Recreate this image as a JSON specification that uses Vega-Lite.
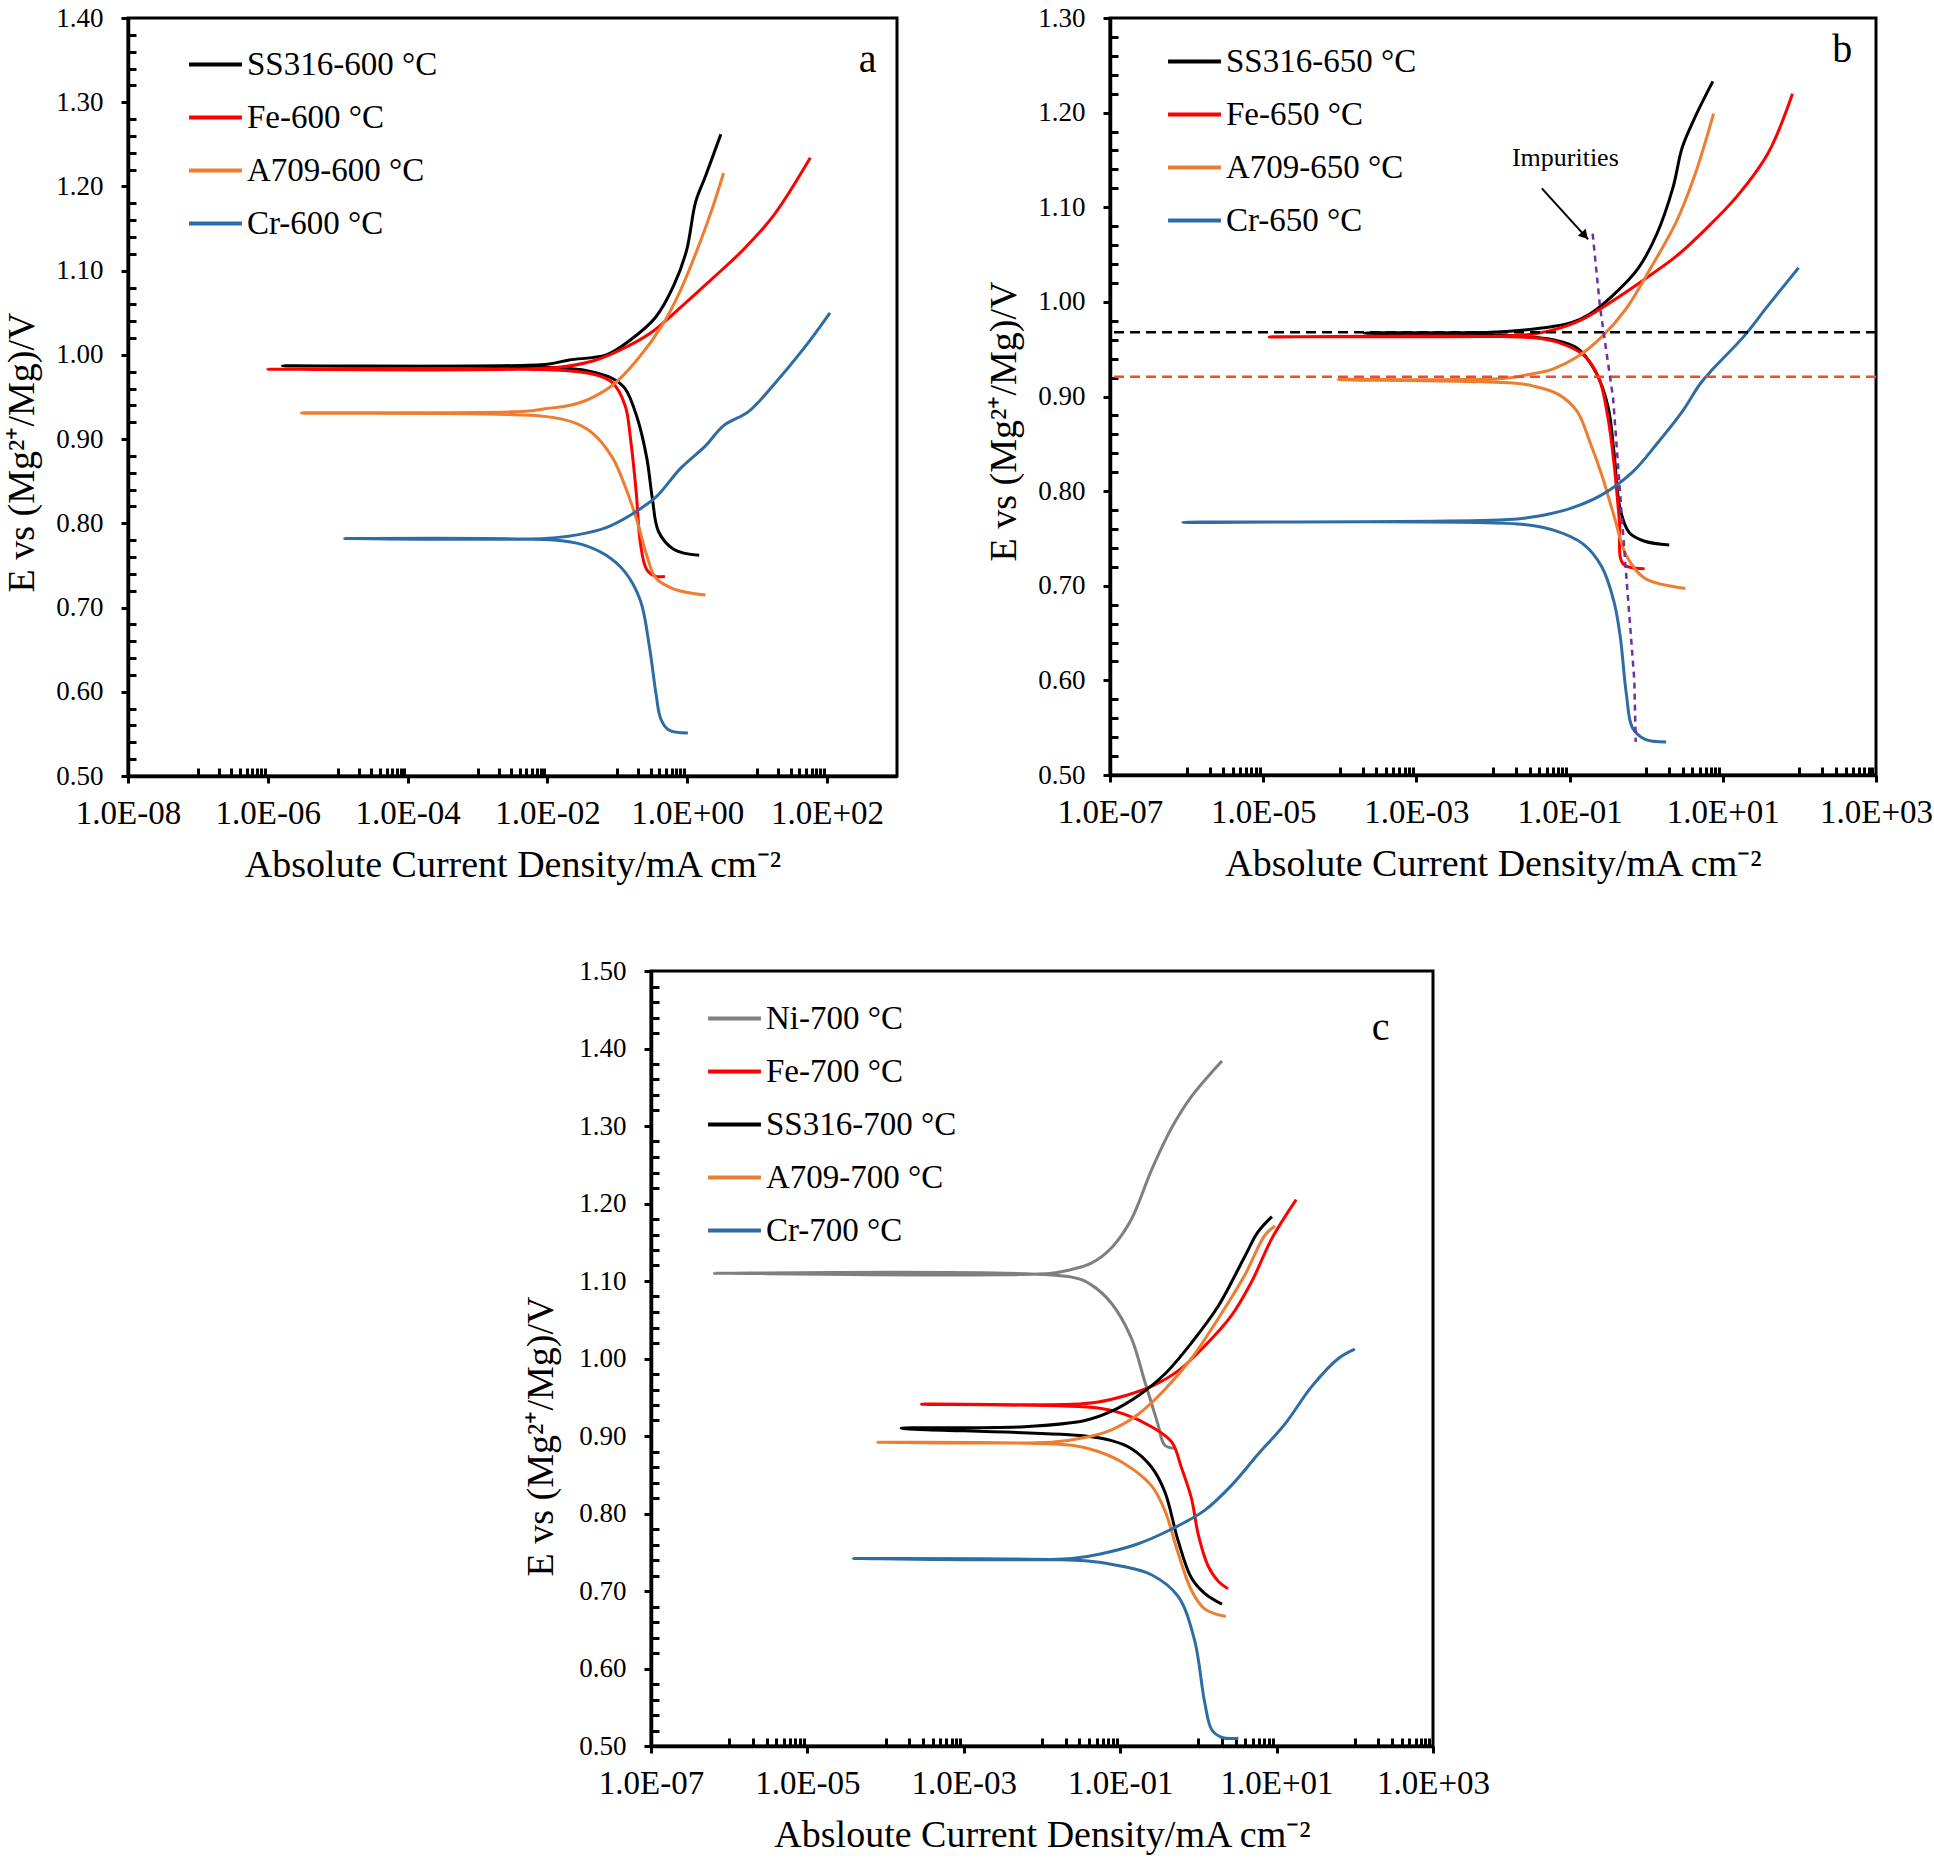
{
  "$schema": "https://vega.github.io/schema/vega-lite/v6.json",
  "background": "white",
  "padding": {"left": 2, "top": 2, "right": 0, "bottom": 0},
  "datasets": {
    "pa": [
      {"s":"SS316-600 °C","o":1,"i":1.48,"E":0.762},{"s":"SS316-600 °C","o":2,"i":0.646,"E":0.769},{"s":"SS316-600 °C","o":3,"i":0.389,"E":0.79},{"s":"SS316-600 °C","o":4,"i":0.316,"E":0.83},{"s":"SS316-600 °C","o":5,"i":0.263,"E":0.878},{"s":"SS316-600 °C","o":6,"i":0.191,"E":0.926},{"s":"SS316-600 °C","o":7,"i":0.129,"E":0.96},{"s":"SS316-600 °C","o":8,"i":0.0851,"E":0.972},{"s":"SS316-600 °C","o":9,"i":0.038,"E":0.981},{"s":"SS316-600 °C","o":10,"i":0.0126,"E":0.985},{"s":"SS316-600 °C","o":11,"i":1.62e-6,"E":0.987},{"s":"SS316-600 °C","o":12,"i":0.01,"E":0.989},{"s":"SS316-600 °C","o":13,"i":0.0204,"E":0.994},{"s":"SS316-600 °C","o":14,"i":0.0692,"E":1.0},{"s":"SS316-600 °C","o":15,"i":0.155,"E":1.018},{"s":"SS316-600 °C","o":16,"i":0.355,"E":1.045},{"s":"SS316-600 °C","o":17,"i":0.646,"E":1.083},{"s":"SS316-600 °C","o":18,"i":0.977,"E":1.124},{"s":"SS316-600 °C","o":19,"i":1.32,"E":1.182},{"s":"SS316-600 °C","o":20,"i":1.82,"E":1.212},{"s":"SS316-600 °C","o":21,"i":3.02,"E":1.262},
      {"s":"Fe-600 °C","o":1,"i":0.479,"E":0.737},{"s":"Fe-600 °C","o":2,"i":0.355,"E":0.737},{"s":"Fe-600 °C","o":3,"i":0.263,"E":0.745},{"s":"Fe-600 °C","o":4,"i":0.214,"E":0.776},{"s":"Fe-600 °C","o":5,"i":0.186,"E":0.837},{"s":"Fe-600 °C","o":6,"i":0.155,"E":0.899},{"s":"Fe-600 °C","o":7,"i":0.129,"E":0.94},{"s":"Fe-600 °C","o":8,"i":0.0851,"E":0.967},{"s":"Fe-600 °C","o":9,"i":0.0457,"E":0.977},{"s":"Fe-600 °C","o":10,"i":0.0135,"E":0.982},{"s":"Fe-600 °C","o":11,"i":1e-6,"E":0.983},{"s":"Fe-600 °C","o":12,"i":0.0135,"E":0.985},{"s":"Fe-600 °C","o":13,"i":0.0457,"E":0.993},{"s":"Fe-600 °C","o":14,"i":0.105,"E":1.005},{"s":"Fe-600 °C","o":15,"i":0.288,"E":1.025},{"s":"Fe-600 °C","o":16,"i":0.794,"E":1.056},{"s":"Fe-600 °C","o":17,"i":2.24,"E":1.09},{"s":"Fe-600 °C","o":18,"i":6.17,"E":1.124},{"s":"Fe-600 °C","o":19,"i":17.0,"E":1.165},{"s":"Fe-600 °C","o":20,"i":57.5,"E":1.234},
      {"s":"A709-600 °C","o":1,"i":1.82,"E":0.715},{"s":"A709-600 °C","o":2,"i":0.646,"E":0.722},{"s":"A709-600 °C","o":3,"i":0.355,"E":0.735},{"s":"A709-600 °C","o":4,"i":0.263,"E":0.762},{"s":"A709-600 °C","o":5,"i":0.191,"E":0.803},{"s":"A709-600 °C","o":6,"i":0.129,"E":0.844},{"s":"A709-600 °C","o":7,"i":0.0851,"E":0.878},{"s":"A709-600 °C","o":8,"i":0.0457,"E":0.906},{"s":"A709-600 °C","o":9,"i":0.0251,"E":0.919},{"s":"A709-600 °C","o":10,"i":0.00912,"E":0.927},{"s":"A709-600 °C","o":11,"i":3.02e-6,"E":0.931},{"s":"A709-600 °C","o":12,"i":0.0049,"E":0.933},{"s":"A709-600 °C","o":13,"i":0.00912,"E":0.936},{"s":"A709-600 °C","o":14,"i":0.0204,"E":0.94},{"s":"A709-600 °C","o":15,"i":0.038,"E":0.947},{"s":"A709-600 °C","o":16,"i":0.0851,"E":0.964},{"s":"A709-600 °C","o":17,"i":0.191,"E":0.994},{"s":"A709-600 °C","o":18,"i":0.437,"E":1.035},{"s":"A709-600 °C","o":19,"i":0.794,"E":1.076},{"s":"A709-600 °C","o":20,"i":1.48,"E":1.131},{"s":"A709-600 °C","o":21,"i":2.24,"E":1.172},{"s":"A709-600 °C","o":22,"i":3.31,"E":1.216},
      {"s":"Cr-600 °C","o":1,"i":1.02,"E":0.551},{"s":"Cr-600 °C","o":2,"i":0.537,"E":0.555},{"s":"Cr-600 °C","o":3,"i":0.417,"E":0.568},{"s":"Cr-600 °C","o":4,"i":0.355,"E":0.599},{"s":"Cr-600 °C","o":5,"i":0.288,"E":0.653},{"s":"Cr-600 °C","o":6,"i":0.214,"E":0.708},{"s":"Cr-600 °C","o":7,"i":0.129,"E":0.742},{"s":"Cr-600 °C","o":8,"i":0.0692,"E":0.762},{"s":"Cr-600 °C","o":9,"i":0.0309,"E":0.775},{"s":"Cr-600 °C","o":10,"i":0.0135,"E":0.78},{"s":"Cr-600 °C","o":11,"i":1.26e-5,"E":0.782},{"s":"Cr-600 °C","o":12,"i":0.00912,"E":0.782},{"s":"Cr-600 °C","o":13,"i":0.0251,"E":0.786},{"s":"Cr-600 °C","o":14,"i":0.0692,"E":0.795},{"s":"Cr-600 °C","o":15,"i":0.155,"E":0.81},{"s":"Cr-600 °C","o":16,"i":0.355,"E":0.831},{"s":"Cr-600 °C","o":17,"i":0.794,"E":0.865},{"s":"Cr-600 °C","o":18,"i":1.82,"E":0.892},{"s":"Cr-600 °C","o":19,"i":3.31,"E":0.916},{"s":"Cr-600 °C","o":20,"i":7.59,"E":0.933},{"s":"Cr-600 °C","o":21,"i":17.0,"E":0.964},{"s":"Cr-600 °C","o":22,"i":46.8,"E":1.008},{"s":"Cr-600 °C","o":23,"i":110,"E":1.05}
    ],
    "pb": [
      {"s":"SS316-650 °C","o":1,"i":2.0,"E":0.743},{"s":"SS316-650 °C","o":2,"i":0.955,"E":0.747},{"s":"SS316-650 °C","o":3,"i":0.603,"E":0.756},{"s":"SS316-650 °C","o":4,"i":0.457,"E":0.781},{"s":"SS316-650 °C","o":5,"i":0.38,"E":0.841},{"s":"SS316-650 °C","o":6,"i":0.316,"E":0.89},{"s":"SS316-650 °C","o":7,"i":0.219,"E":0.926},{"s":"SS316-650 °C","o":8,"i":0.126,"E":0.951},{"s":"SS316-650 °C","o":9,"i":0.0603,"E":0.96},{"s":"SS316-650 °C","o":10,"i":0.0234,"E":0.964},{"s":"SS316-650 °C","o":11,"i":2.09e-4,"E":0.967},{"s":"SS316-650 °C","o":12,"i":0.00933,"E":0.968},{"s":"SS316-650 °C","o":13,"i":0.0234,"E":0.97},{"s":"SS316-650 °C","o":14,"i":0.0603,"E":0.974},{"s":"SS316-650 °C","o":15,"i":0.105,"E":0.978},{"s":"SS316-650 °C","o":16,"i":0.182,"E":0.987},{"s":"SS316-650 °C","o":17,"i":0.38,"E":1.008},{"s":"SS316-650 °C","o":18,"i":0.794,"E":1.036},{"s":"SS316-650 °C","o":19,"i":1.38,"E":1.072},{"s":"SS316-650 °C","o":20,"i":2.24,"E":1.121},{"s":"SS316-650 °C","o":21,"i":2.95,"E":1.163},{"s":"SS316-650 °C","o":22,"i":4.27,"E":1.194},{"s":"SS316-650 °C","o":23,"i":7.41,"E":1.233},
      {"s":"Fe-650 °C","o":1,"i":0.955,"E":0.718},{"s":"Fe-650 °C","o":2,"i":0.501,"E":0.723},{"s":"Fe-650 °C","o":3,"i":0.447,"E":0.768},{"s":"Fe-650 °C","o":4,"i":0.38,"E":0.829},{"s":"Fe-650 °C","o":5,"i":0.316,"E":0.878},{"s":"Fe-650 °C","o":6,"i":0.24,"E":0.92},{"s":"Fe-650 °C","o":7,"i":0.151,"E":0.944},{"s":"Fe-650 °C","o":8,"i":0.0724,"E":0.957},{"s":"Fe-650 °C","o":9,"i":0.0339,"E":0.962},{"s":"Fe-650 °C","o":10,"i":1.2e-5,"E":0.963},{"s":"Fe-650 °C","o":11,"i":0.0135,"E":0.964},{"s":"Fe-650 °C","o":12,"i":0.0339,"E":0.966},{"s":"Fe-650 °C","o":13,"i":0.0724,"E":0.972},{"s":"Fe-650 °C","o":14,"i":0.151,"E":0.982},{"s":"Fe-650 °C","o":15,"i":0.38,"E":1.002},{"s":"Fe-650 °C","o":16,"i":0.955,"E":1.024},{"s":"Fe-650 °C","o":17,"i":2.45,"E":1.048},{"s":"Fe-650 °C","o":18,"i":6.17,"E":1.078},{"s":"Fe-650 °C","o":19,"i":15.5,"E":1.112},{"s":"Fe-650 °C","o":20,"i":38.9,"E":1.157},{"s":"Fe-650 °C","o":21,"i":81.3,"E":1.22},
      {"s":"A709-650 °C","o":1,"i":3.24,"E":0.697},{"s":"A709-650 °C","o":2,"i":0.955,"E":0.708},{"s":"A709-650 °C","o":3,"i":0.55,"E":0.732},{"s":"A709-650 °C","o":4,"i":0.38,"E":0.774},{"s":"A709-650 °C","o":5,"i":0.263,"E":0.817},{"s":"A709-650 °C","o":6,"i":0.182,"E":0.853},{"s":"A709-650 °C","o":7,"i":0.126,"E":0.884},{"s":"A709-650 °C","o":8,"i":0.0724,"E":0.902},{"s":"A709-650 °C","o":9,"i":0.0339,"E":0.911},{"s":"A709-650 °C","o":10,"i":0.0195,"E":0.914},{"s":"A709-650 °C","o":11,"i":9.55e-5,"E":0.918},{"s":"A709-650 °C","o":12,"i":0.0135,"E":0.919},{"s":"A709-650 °C","o":13,"i":0.0282,"E":0.923},{"s":"A709-650 °C","o":14,"i":0.0603,"E":0.929},{"s":"A709-650 °C","o":15,"i":0.126,"E":0.942},{"s":"A709-650 °C","o":16,"i":0.263,"E":0.963},{"s":"A709-650 °C","o":17,"i":0.55,"E":0.993},{"s":"A709-650 °C","o":18,"i":1.15,"E":1.036},{"s":"A709-650 °C","o":19,"i":2.45,"E":1.084},{"s":"A709-650 °C","o":20,"i":4.27,"E":1.133},{"s":"A709-650 °C","o":21,"i":7.59,"E":1.199},
      {"s":"Cr-650 °C","o":1,"i":1.82,"E":0.535},{"s":"Cr-650 °C","o":2,"i":0.955,"E":0.538},{"s":"Cr-650 °C","o":3,"i":0.661,"E":0.55},{"s":"Cr-650 °C","o":4,"i":0.55,"E":0.586},{"s":"Cr-650 °C","o":5,"i":0.457,"E":0.647},{"s":"Cr-650 °C","o":6,"i":0.38,"E":0.683},{"s":"Cr-650 °C","o":7,"i":0.263,"E":0.72},{"s":"Cr-650 °C","o":8,"i":0.151,"E":0.744},{"s":"Cr-650 °C","o":9,"i":0.0603,"E":0.759},{"s":"Cr-650 °C","o":10,"i":0.0234,"E":0.765},{"s":"Cr-650 °C","o":11,"i":8.91e-7,"E":0.767},{"s":"Cr-650 °C","o":12,"i":0.0162,"E":0.77},{"s":"Cr-650 °C","o":13,"i":0.0417,"E":0.774},{"s":"Cr-650 °C","o":14,"i":0.105,"E":0.782},{"s":"Cr-650 °C","o":15,"i":0.263,"E":0.796},{"s":"Cr-650 °C","o":16,"i":0.661,"E":0.82},{"s":"Cr-650 °C","o":17,"i":1.38,"E":0.85},{"s":"Cr-650 °C","o":18,"i":2.95,"E":0.884},{"s":"Cr-650 °C","o":19,"i":5.13,"E":0.914},{"s":"Cr-650 °C","o":20,"i":7.41,"E":0.929},{"s":"Cr-650 °C","o":21,"i":18.6,"E":0.963},{"s":"Cr-650 °C","o":22,"i":38.9,"E":0.996},{"s":"Cr-650 °C","o":23,"i":97.7,"E":1.036}
    ],
    "pc": [
      {"s":"Ni-700 °C","o":1,"i":0.501,"E":0.884},{"s":"Ni-700 °C","o":2,"i":0.372,"E":0.888},{"s":"Ni-700 °C","o":3,"i":0.302,"E":0.916},{"s":"Ni-700 °C","o":4,"i":0.204,"E":0.972},{"s":"Ni-700 °C","o":5,"i":0.138,"E":1.027},{"s":"Ni-700 °C","o":6,"i":0.0776,"E":1.071},{"s":"Ni-700 °C","o":7,"i":0.0427,"E":1.095},{"s":"Ni-700 °C","o":8,"i":0.024,"E":1.105},{"s":"Ni-700 °C","o":9,"i":6.46e-7,"E":1.11},{"s":"Ni-700 °C","o":10,"i":0.0132,"E":1.11},{"s":"Ni-700 °C","o":11,"i":0.024,"E":1.115},{"s":"Ni-700 °C","o":12,"i":0.0427,"E":1.123},{"s":"Ni-700 °C","o":13,"i":0.0776,"E":1.143},{"s":"Ni-700 °C","o":14,"i":0.138,"E":1.179},{"s":"Ni-700 °C","o":15,"i":0.251,"E":1.243},{"s":"Ni-700 °C","o":16,"i":0.457,"E":1.298},{"s":"Ni-700 °C","o":17,"i":0.813,"E":1.338},{"s":"Ni-700 °C","o":18,"i":2.0,"E":1.384},
      {"s":"Fe-700 °C","o":1,"i":2.4,"E":0.703},{"s":"Fe-700 °C","o":2,"i":1.78,"E":0.713},{"s":"Fe-700 °C","o":3,"i":1.32,"E":0.733},{"s":"Fe-700 °C","o":4,"i":1.0,"E":0.772},{"s":"Fe-700 °C","o":5,"i":0.813,"E":0.82},{"s":"Fe-700 °C","o":6,"i":0.603,"E":0.86},{"s":"Fe-700 °C","o":7,"i":0.457,"E":0.892},{"s":"Fe-700 °C","o":8,"i":0.251,"E":0.912},{"s":"Fe-700 °C","o":9,"i":0.115,"E":0.928},{"s":"Fe-700 °C","o":10,"i":0.0525,"E":0.936},{"s":"Fe-700 °C","o":11,"i":2.88e-4,"E":0.941},{"s":"Fe-700 °C","o":12,"i":0.024,"E":0.941},{"s":"Fe-700 °C","o":13,"i":0.0525,"E":0.944},{"s":"Fe-700 °C","o":14,"i":0.115,"E":0.952},{"s":"Fe-700 °C","o":15,"i":0.251,"E":0.964},{"s":"Fe-700 °C","o":16,"i":0.55,"E":0.984},{"s":"Fe-700 °C","o":17,"i":1.2,"E":1.016},{"s":"Fe-700 °C","o":18,"i":2.63,"E":1.055},{"s":"Fe-700 °C","o":19,"i":4.79,"E":1.099},{"s":"Fe-700 °C","o":20,"i":8.71,"E":1.155},{"s":"Fe-700 °C","o":21,"i":17.8,"E":1.205},
      {"s":"SS316-700 °C","o":1,"i":2.0,"E":0.683},{"s":"SS316-700 °C","o":2,"i":1.2,"E":0.697},{"s":"SS316-700 °C","o":3,"i":0.813,"E":0.717},{"s":"SS316-700 °C","o":4,"i":0.55,"E":0.765},{"s":"SS316-700 °C","o":5,"i":0.372,"E":0.828},{"s":"SS316-700 °C","o":6,"i":0.251,"E":0.86},{"s":"SS316-700 °C","o":7,"i":0.138,"E":0.884},{"s":"SS316-700 °C","o":8,"i":0.0776,"E":0.894},{"s":"SS316-700 °C","o":9,"i":0.0355,"E":0.9},{"s":"SS316-700 °C","o":10,"i":1.58e-4,"E":0.91},{"s":"SS316-700 °C","o":11,"i":0.00603,"E":0.912},{"s":"SS316-700 °C","o":12,"i":0.0355,"E":0.92},{"s":"SS316-700 °C","o":13,"i":0.0776,"E":0.932},{"s":"SS316-700 °C","o":14,"i":0.17,"E":0.952},{"s":"SS316-700 °C","o":15,"i":0.372,"E":0.98},{"s":"SS316-700 °C","o":16,"i":0.813,"E":1.02},{"s":"SS316-700 °C","o":17,"i":1.78,"E":1.067},{"s":"SS316-700 °C","o":18,"i":3.89,"E":1.131},{"s":"SS316-700 °C","o":19,"i":5.75,"E":1.163},{"s":"SS316-700 °C","o":20,"i":8.71,"E":1.183},
      {"s":"A709-700 °C","o":1,"i":2.24,"E":0.667},{"s":"A709-700 °C","o":2,"i":1.2,"E":0.677},{"s":"A709-700 °C","o":3,"i":0.813,"E":0.701},{"s":"A709-700 °C","o":4,"i":0.55,"E":0.749},{"s":"A709-700 °C","o":5,"i":0.372,"E":0.804},{"s":"A709-700 °C","o":6,"i":0.251,"E":0.836},{"s":"A709-700 °C","o":7,"i":0.115,"E":0.864},{"s":"A709-700 °C","o":8,"i":0.0525,"E":0.88},{"s":"A709-700 °C","o":9,"i":0.024,"E":0.888},{"s":"A709-700 °C","o":10,"i":7.94e-5,"E":0.892},{"s":"A709-700 °C","o":11,"i":0.0132,"E":0.892},{"s":"A709-700 °C","o":12,"i":0.0355,"E":0.898},{"s":"A709-700 °C","o":13,"i":0.0776,"E":0.908},{"s":"A709-700 °C","o":14,"i":0.17,"E":0.928},{"s":"A709-700 °C","o":15,"i":0.372,"E":0.96},{"s":"A709-700 °C","o":16,"i":0.813,"E":1.0},{"s":"A709-700 °C","o":17,"i":1.78,"E":1.051},{"s":"A709-700 °C","o":18,"i":3.89,"E":1.107},{"s":"A709-700 °C","o":19,"i":7.08,"E":1.159},{"s":"A709-700 °C","o":20,"i":9.55,"E":1.171},
      {"s":"Cr-700 °C","o":1,"i":3.24,"E":0.51},{"s":"Cr-700 °C","o":2,"i":2.0,"E":0.511},{"s":"Cr-700 °C","o":3,"i":1.48,"E":0.521},{"s":"Cr-700 °C","o":4,"i":1.2,"E":0.557},{"s":"Cr-700 °C","o":5,"i":0.891,"E":0.637},{"s":"Cr-700 °C","o":6,"i":0.55,"E":0.693},{"s":"Cr-700 °C","o":7,"i":0.251,"E":0.721},{"s":"Cr-700 °C","o":8,"i":0.0933,"E":0.733},{"s":"Cr-700 °C","o":9,"i":0.0355,"E":0.739},{"s":"Cr-700 °C","o":10,"i":3.89e-5,"E":0.742},{"s":"Cr-700 °C","o":11,"i":0.024,"E":0.742},{"s":"Cr-700 °C","o":12,"i":0.0631,"E":0.749},{"s":"Cr-700 °C","o":13,"i":0.17,"E":0.761},{"s":"Cr-700 °C","o":14,"i":0.457,"E":0.78},{"s":"Cr-700 °C","o":15,"i":1.2,"E":0.804},{"s":"Cr-700 °C","o":16,"i":2.63,"E":0.836},{"s":"Cr-700 °C","o":17,"i":5.75,"E":0.876},{"s":"Cr-700 °C","o":18,"i":12.9,"E":0.916},{"s":"Cr-700 °C","o":19,"i":28.2,"E":0.964},{"s":"Cr-700 °C","o":20,"i":61.7,"E":1.0},{"s":"Cr-700 °C","o":21,"i":100,"E":1.012}
    ],
    "imp": [
      {"o":1,"i":0.2,"E":1.072},{"o":2,"i":0.25,"E":0.994},{"o":3,"i":0.37,"E":0.898},{"o":4,"i":0.53,"E":0.727},{"o":5,"i":0.7,"E":0.6},{"o":6,"i":0.73,"E":0.535}
    ]
  },
  "config": {
    "view": {"stroke": "black", "strokeWidth": 3},
    "axis": {"grid": false, "domainColor": "black", "domainWidth": 3.5, "tickColor": "black", "tickWidth": 3, "labelColor": "black", "titleColor": "black", "labelFont": "Liberation Serif", "titleFont": "Liberation Serif", "titleFontWeight": "normal", "labelOverlap": false, "labelFlush": false, "labelBound": false},
    "legend": {"labelFont": "Liberation Serif", "labelColor": "black"},
    "text": {"font": "Liberation Serif", "color": "black"}
  },
  "spacing": 69,
  "resolve": {"scale": {"x": "independent", "y": "independent", "color": "independent"}, "axis": {"x": "independent", "y": "independent"}, "legend": {"color": "independent"}},
  "vconcat": [
    {
      "spacing": 85,
      "resolve": {"scale": {"x": "independent", "y": "independent", "color": "independent"}, "axis": {"x": "independent", "y": "independent"}, "legend": {"color": "independent"}},
      "hconcat": [
        {
          "width": 769, "height": 758,
          "resolve": {"axis": {"x": "independent", "y": "independent"}},
          "layer": [
            {
              "data": {"name": "pa"},
              "mark": {"type": "line", "strokeWidth": 3, "interpolate": "catmull-rom"},
              "encoding": {
                "x": {"field": "i", "type": "quantitative", "scale": {"type": "log", "domain": [1e-8, 1000], "nice": false},
                  "axis": {"title": "Absolute Current Density/mA cm⁻²", "titleFontSize": 38, "titlePadding": 16, "labelFontSize": 33, "labelPadding": 14,
                    "values": [1e-8,1e-6,1e-4,0.01,1,100,1e-7,2e-7,3e-7,4e-7,5e-7,6e-7,7e-7,8e-7,9e-7,1e-5,2e-5,3e-5,4e-5,5e-5,6e-5,7e-5,8e-5,9e-5,0.001,0.002,0.003,0.004,0.005,0.006,0.007,0.008,0.009,0.1,0.2,0.3,0.4,0.5,0.6,0.7,0.8,0.9,10,20,30,40,50,60,70,80,90],
                    "labelExpr": "abs(log(datum.value)/LN10-round(log(datum.value)/LN10))<0.001 && abs(round(log(datum.value)/LN10))%2==0 ? '1.0E' + (round(log(datum.value)/LN10) < 0 ? '-' : '+') + (abs(round(log(datum.value)/LN10)) < 10 ? '0' : '') + abs(round(log(datum.value)/LN10)) : ''",
                    "tickSize": {"condition": {"test": "abs(log(datum.value)/LN10-round(log(datum.value)/LN10))<0.001 && abs(round(log(datum.value)/LN10))%2==0", "value": 7}, "value": -8}}},
                "y": {"field": "E", "type": "quantitative", "scale": {"domain": [0.5, 1.4], "nice": false, "zero": false},
                  "axis": {"title": "E vs (Mg²⁺/Mg)/V", "titleFontSize": 38, "titlePadding": 14, "titleY": 434, "labelFontSize": 27, "labelPadding": 18,
                    "values": [0.5,0.52,0.54,0.56,0.58,0.6,0.62,0.64,0.66,0.68,0.7,0.72,0.74,0.76,0.78,0.8,0.82,0.84,0.86,0.88,0.9,0.92,0.94,0.96,0.98,1,1.02,1.04,1.06,1.08,1.1,1.12,1.14,1.16,1.18,1.2,1.22,1.24,1.26,1.28,1.3,1.32,1.34,1.36,1.38,1.4],
                    "labelExpr": "abs(datum.value*10-round(datum.value*10))<0.001 ? format(datum.value, '.2f') : ''",
                    "tickSize": {"condition": {"test": "abs(datum.value*10-round(datum.value*10))<0.001", "value": 7}, "value": -8}}},
                "color": {"field": "s", "type": "nominal",
                  "scale": {"domain": ["SS316-600 °C", "Fe-600 °C", "A709-600 °C", "Cr-600 °C"], "range": ["#000000", "#ff0000", "#ed7d31", "#2e6da4"]},
                  "legend": {"title": null, "orient": "none", "legendX": 59, "legendY": 18, "direction": "vertical", "symbolType": "stroke", "symbolSize": 2800, "symbolStrokeWidth": 4, "labelFontSize": 33, "labelOffset": 3, "rowPadding": 7, "padding": 0, "labelLimit": 500}},
                "order": {"field": "o", "type": "quantitative"}
              }
            },
            {
              "data": {"values": [{"t": "a"}]},
              "mark": {"type": "text", "fontSize": 40, "align": "center", "baseline": "middle"},
              "encoding": {"x": {"datum": 380, "axis": null}, "y": {"datum": 1.35, "axis": null}, "text": {"field": "t"}}
            }
          ]
        },
        {
          "width": 766, "height": 757,
          "resolve": {"axis": {"x": "independent", "y": "independent"}},
          "layer": [
            {
              "data": {"name": "pb"},
              "mark": {"type": "line", "strokeWidth": 3, "interpolate": "catmull-rom"},
              "encoding": {
                "x": {"field": "i", "type": "quantitative", "scale": {"type": "log", "domain": [1e-7, 1000], "nice": false},
                  "axis": {"title": "Absolute Current Density/mA cm⁻²", "titleFontSize": 38, "titlePadding": 16, "labelFontSize": 33, "labelPadding": 14,
                    "values": [1e-7,1e-5,0.001,0.1,10,1000,1e-6,2e-6,3e-6,4e-6,5e-6,6e-6,7e-6,8e-6,9e-6,1e-4,2e-4,3e-4,4e-4,5e-4,6e-4,7e-4,8e-4,9e-4,0.01,0.02,0.03,0.04,0.05,0.06,0.07,0.08,0.09,1,2,3,4,5,6,7,8,9,100,200,300,400,500,600,700,800,900],
                    "labelExpr": "abs(log(datum.value)/LN10-round(log(datum.value)/LN10))<0.001 && abs(round(log(datum.value)/LN10))%2==1 ? '1.0E' + (round(log(datum.value)/LN10) < 0 ? '-' : '+') + (abs(round(log(datum.value)/LN10)) < 10 ? '0' : '') + abs(round(log(datum.value)/LN10)) : ''",
                    "tickSize": {"condition": {"test": "abs(log(datum.value)/LN10-round(log(datum.value)/LN10))<0.001 && abs(round(log(datum.value)/LN10))%2==1", "value": 7}, "value": -8}}},
                "y": {"field": "E", "type": "quantitative", "scale": {"domain": [0.5, 1.3], "nice": false, "zero": false},
                  "axis": {"title": "E vs (Mg²⁺/Mg)/V", "titleFontSize": 38, "titlePadding": 14, "titleY": 403, "labelFontSize": 27, "labelPadding": 18,
                    "values": [0.5,0.52,0.54,0.56,0.58,0.6,0.62,0.64,0.66,0.68,0.7,0.72,0.74,0.76,0.78,0.8,0.82,0.84,0.86,0.88,0.9,0.92,0.94,0.96,0.98,1,1.02,1.04,1.06,1.08,1.1,1.12,1.14,1.16,1.18,1.2,1.22,1.24,1.26,1.28,1.3],
                    "labelExpr": "abs(datum.value*10-round(datum.value*10))<0.001 ? format(datum.value, '.2f') : ''",
                    "tickSize": {"condition": {"test": "abs(datum.value*10-round(datum.value*10))<0.001", "value": 7}, "value": -8}}},
                "color": {"field": "s", "type": "nominal",
                  "scale": {"domain": ["SS316-650 °C", "Fe-650 °C", "A709-650 °C", "Cr-650 °C"], "range": ["#000000", "#ff0000", "#ed7d31", "#2e6da4"]},
                  "legend": {"title": null, "orient": "none", "legendX": 56, "legendY": 15, "direction": "vertical", "symbolType": "stroke", "symbolSize": 2800, "symbolStrokeWidth": 4, "labelFontSize": 33, "labelOffset": 3, "rowPadding": 7, "padding": 0, "labelLimit": 500}},
                "order": {"field": "o", "type": "quantitative"}
              }
            },
            {
              "data": {"values": [{"lvl": 0.968}]},
              "mark": {"type": "rule", "color": "black", "strokeDash": [10, 6], "strokeWidth": 2.5},
              "encoding": {"y": {"field": "lvl", "type": "quantitative", "axis": null}}
            },
            {
              "data": {"values": [{"lvl": 0.921}]},
              "mark": {"type": "rule", "color": "#f24b2b", "strokeDash": [10, 6], "strokeWidth": 2.5},
              "encoding": {"y": {"field": "lvl", "type": "quantitative", "axis": null}}
            },
            {
              "data": {"name": "imp"},
              "mark": {"type": "line", "color": "#7030a0", "strokeDash": [6, 5], "strokeWidth": 2.5},
              "encoding": {"x": {"field": "i", "type": "quantitative", "axis": null}, "y": {"field": "E", "type": "quantitative", "axis": null}, "order": {"field": "o", "type": "quantitative"}}
            },
            {
              "data": {"values": [{"x1": 0.0434, "y1": 1.12, "x2": 0.1746, "y2": 1.066}]},
              "mark": {"type": "rule", "color": "black", "strokeWidth": 2},
              "encoding": {"x": {"field": "x1", "type": "quantitative", "axis": null}, "y": {"field": "y1", "type": "quantitative", "axis": null}, "x2": {"field": "x2"}, "y2": {"field": "y2"}}
            },
            {
              "data": {"values": [{"x": 0.158, "y": 1.07}]},
              "mark": {"type": "point", "shape": "triangle-up", "angle": 138, "size": 110, "filled": true, "color": "black", "opacity": 1},
              "encoding": {"x": {"field": "x", "type": "quantitative", "axis": null}, "y": {"field": "y", "type": "quantitative", "axis": null}}
            },
            {
              "data": {"values": [{"t": "Impurities"}]},
              "mark": {"type": "text", "fontSize": 26, "align": "center", "baseline": "middle"},
              "encoding": {"x": {"datum": 0.088, "axis": null}, "y": {"datum": 1.152, "axis": null}, "text": {"field": "t"}}
            },
            {
              "data": {"values": [{"t": "b"}]},
              "mark": {"type": "text", "fontSize": 40, "align": "center", "baseline": "middle"},
              "encoding": {"x": {"datum": 363, "axis": null}, "y": {"datum": 1.266, "axis": null}, "text": {"field": "t"}}
            }
          ]
        }
      ]
    },
    {
      "spacing": 0,
      "resolve": {"scale": {"x": "independent", "y": "independent", "color": "independent"}, "axis": {"x": "independent", "y": "independent"}, "legend": {"color": "independent"}},
      "hconcat": [
        {
          "width": 393, "height": 10,
          "view": {"stroke": null},
          "data": {"values": []},
          "mark": {"type": "point", "opacity": 0}
        },
        {
          "width": 782, "height": 775,
          "resolve": {"axis": {"x": "independent", "y": "independent"}},
          "layer": [
            {
              "data": {"name": "pc"},
              "mark": {"type": "line", "strokeWidth": 3, "interpolate": "catmull-rom"},
              "encoding": {
                "x": {"field": "i", "type": "quantitative", "scale": {"type": "log", "domain": [1e-7, 1000], "nice": false},
                  "axis": {"title": "Absloute Current Density/mA cm⁻²", "titleFontSize": 38, "titlePadding": 16, "labelFontSize": 33, "labelPadding": 14,
                    "values": [1e-7,1e-5,0.001,0.1,10,1000,1e-6,2e-6,3e-6,4e-6,5e-6,6e-6,7e-6,8e-6,9e-6,1e-4,2e-4,3e-4,4e-4,5e-4,6e-4,7e-4,8e-4,9e-4,0.01,0.02,0.03,0.04,0.05,0.06,0.07,0.08,0.09,1,2,3,4,5,6,7,8,9,100,200,300,400,500,600,700,800,900],
                    "labelExpr": "abs(log(datum.value)/LN10-round(log(datum.value)/LN10))<0.001 && abs(round(log(datum.value)/LN10))%2==1 ? '1.0E' + (round(log(datum.value)/LN10) < 0 ? '-' : '+') + (abs(round(log(datum.value)/LN10)) < 10 ? '0' : '') + abs(round(log(datum.value)/LN10)) : ''",
                    "tickSize": {"condition": {"test": "abs(log(datum.value)/LN10-round(log(datum.value)/LN10))<0.001 && abs(round(log(datum.value)/LN10))%2==1", "value": 7}, "value": -8}}},
                "y": {"field": "E", "type": "quantitative", "scale": {"domain": [0.5, 1.5], "nice": false, "zero": false},
                  "axis": {"title": "E vs (Mg²⁺/Mg)/V", "titleFontSize": 38, "titlePadding": 18, "titleY": 465, "labelFontSize": 27, "labelPadding": 18,
                    "values": [0.5,0.52,0.54,0.56,0.58,0.6,0.62,0.64,0.66,0.68,0.7,0.72,0.74,0.76,0.78,0.8,0.82,0.84,0.86,0.88,0.9,0.92,0.94,0.96,0.98,1,1.02,1.04,1.06,1.08,1.1,1.12,1.14,1.16,1.18,1.2,1.22,1.24,1.26,1.28,1.3,1.32,1.34,1.36,1.38,1.4,1.42,1.44,1.46,1.48,1.5],
                    "labelExpr": "abs(datum.value*10-round(datum.value*10))<0.001 ? format(datum.value, '.2f') : ''",
                    "tickSize": {"condition": {"test": "abs(datum.value*10-round(datum.value*10))<0.001", "value": 7}, "value": -8}}},
                "color": {"field": "s", "type": "nominal",
                  "scale": {"domain": ["Ni-700 °C", "Fe-700 °C", "SS316-700 °C", "A709-700 °C", "Cr-700 °C"], "range": ["#7f7f7f", "#ff0000", "#000000", "#ed7d31", "#2e6da4"]},
                  "legend": {"title": null, "orient": "none", "legendX": 55, "legendY": 19, "direction": "vertical", "symbolType": "stroke", "symbolSize": 2800, "symbolStrokeWidth": 4, "labelFontSize": 33, "labelOffset": 3, "rowPadding": 7, "padding": 0, "labelLimit": 500}},
                "order": {"field": "o", "type": "quantitative"}
              }
            },
            {
              "data": {"values": [{"t": "c"}]},
              "mark": {"type": "text", "fontSize": 40, "align": "center", "baseline": "middle"},
              "encoding": {"x": {"datum": 214, "axis": null}, "y": {"datum": 1.426, "axis": null}, "text": {"field": "t"}}
            }
          ]
        }
      ]
    }
  ]
}
